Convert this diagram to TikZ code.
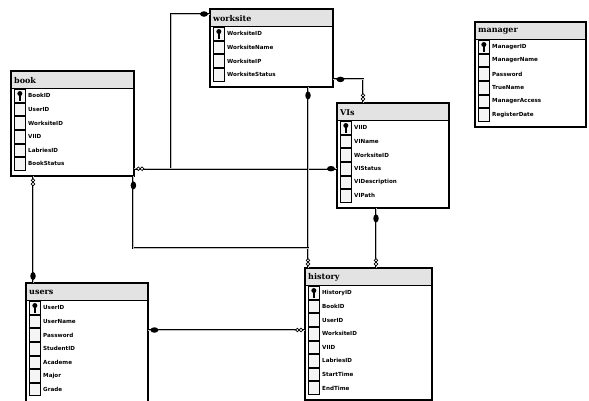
\documentclass[tikz,border=0pt]{standalone}
\usepackage{fontspec}
\newfontfamily\fldfont{DejaVu Sans}
\newfontfamily\ttlfont{DejaVu Serif}
\usetikzlibrary{calc,shapes.geometric}
\tikzset{
 tblframe/.style={draw=black, line width=1.4pt, fill=white, inner sep=0pt, rectangle},
 ttlbar/.style={draw=black, line width=0.6pt, fill=gray!22, inner sep=0pt, minimum height=17pt},
 ttltext/.style={font=\fontsize{8}{9}\selectfont\ttlfont\bfseries, inner sep=0pt, anchor=west},
 cellbox/.style={draw=black, line width=0.7pt, fill=gray!8, minimum width=11pt, minimum height=12.6pt, inner sep=0pt},
 fldtext/.style={font=\fontsize{5.6}{6.5}\selectfont\fldfont\bfseries, inner sep=0pt, anchor=west},
 conn/.style={draw=black, line width=2.1pt, postaction={draw=gray!50, line width=0.6pt}},
 keyh/.style={ellipse, fill=black, inner sep=0pt, minimum width=8pt, minimum height=5.5pt},
 keyv/.style={ellipse, fill=black, inner sep=0pt, minimum width=5.5pt, minimum height=8pt},
 ring/.style={circle, draw=black, fill=white, line width=0.7pt, inner sep=0pt, minimum size=3.6pt},
}
% #1 name, #2 left, #3 top, #4 width, #5 height, #6 title, #7 fields
\newcommand{\mktable}[7]{%
  \node[tblframe, minimum width=#4pt, minimum height=#5pt, anchor=north west] (#1) at (#2,#3) {};
  \node[ttlbar, minimum width=#4pt, anchor=north west] (#1-t) at (#1.north west) {};
  \node[ttltext] (#1-tt) at ($(#1-t.west)+(3,0.5)$) {#6};
  \foreach \f [count=\i] in {#7} {
    \node[cellbox, anchor=north west] (#1-c\i) at ($(#1-t.south west)+(3,{(\i-1)*13.6+0.5})$) {};
    \node[fldtext] (#1-f\i) at ($(#1-t.south west)+(17,{(\i-0.5)*13.6+0.5})$) {\f};
  }
  \fill ($(#1-c1.center)+(0,-2.2)$) circle (2.5);
  \fill ($(#1-c1.center)+(-1,-1)$) rectangle ($(#1-c1.center)+(1,4.8)$);
  \draw[line width=1.4pt] (#1.north west) rectangle (#1.south east);
}
\begin{document}
\begin{tikzpicture}[x=1pt,y=-1pt]
\useasboundingbox (0,0) rectangle (589,400);
\fill[white] (0,0) rectangle (589,400);
\clip (0,0) rectangle (589,400);

\mktable{book}{11}{71}{122}{104}{book}{BookID,UserID,WorksiteID,VIID,LabriesID,BookStatus}
\mktable{ws}{210}{9}{122}{77}{worksite}{WorksiteID,WorksiteName,WorksiteIP,WorksiteStatus}
\mktable{vis}{337}{103}{111}{104}{VIs}{VIID,VIName,WorksiteID,VIStatus,VIDescription,VIPath}
\mktable{mgr}{475}{22}{110}{104}{manager}{ManagerID,ManagerName,Password,TrueName,ManagerAccess,RegisterDate}
\mktable{users}{26}{283}{121}{122}{users}{UserID,UserName,Password,StudentID,Academe,Major,Grade}
\mktable{hist}{305}{268}{126}{131}{history}{HistoryID,BookID,UserID,WorksiteID,VIID,LabriesID,StartTime,EndTime}

% connector points
\coordinate (c1a) at ($(ws.north west)+(0,5)$);
\coordinate (c1m) at ($(book.east)+(37,0)$);
\coordinate (c2a) at (book.east |- vis-f4);
\coordinate (c2b) at (vis.west |- vis-f4);
\coordinate (c3a) at ($(ws.south east)+(0,-8)$);
\coordinate (c3b) at ($(vis.north west)+(26,0)$);
\coordinate (c4a) at ($(ws.south west)+(98,0)$);
\coordinate (c4b) at (c4a |- hist.north);
\coordinate (c5a) at ($(book.south east)+(-1,0)$);
\coordinate (c5m) at ($(c4b)+(0,-20)$);
\coordinate (c6a) at ($(vis.south west)+(39,0)$);
\coordinate (c6b) at (c6a |- hist.north);
\coordinate (c7a) at ($(book.south west)+(22,0)$);
\coordinate (c7b) at (c7a |- users.north);
\coordinate (c8a) at ($(hist.north west)+(0,62)$);
\coordinate (c8b) at (users.east |- c8a);

\draw[conn] (c1a) -| (c1m |- c2a) -- (c2a);
\draw[conn] (c2a) -- (c2b);
\draw[conn] (c3a) -| (c3b);
\draw[conn] (c4a) -- (c4b);
\draw[conn] (c5a) |- (c5m) -- (c4b);
\draw[conn] (c6a) -- (c6b);
\draw[conn] (c7a) -- (c7b);
\draw[conn] (c8a) -- (c8b);

% key ends
\node[keyh] at ($(c1a)+(-6,0)$) {};
\node[keyh] at ($(c2b)+(-6,0)$) {};
\node[keyh] at ($(c3a)+(7,0)$) {};
\node[keyv] at ($(c4a)+(0,8)$) {};
\node[keyv] at ($(c5a)+(0,9)$) {};
\node[keyv] at ($(c6a)+(0,10)$) {};
\node[keyv] at ($(c7b)+(0,-7)$) {};
\node[keyh] at ($(c8b)+(6,0)$) {};
% many ends
\node[ring] at ($(c2a)+(4,0)$) {};
\node[ring] at ($(c2a)+(7.6,0)$) {};
\node[ring] at ($(c3b)+(0,-4)$) {};
\node[ring] at ($(c3b)+(0,-7.6)$) {};
\node[ring] at ($(c4b)+(0,-4)$) {};
\node[ring] at ($(c4b)+(0,-7.6)$) {};
\node[ring] at ($(c6b)+(0,-4)$) {};
\node[ring] at ($(c6b)+(0,-7.6)$) {};
\node[ring] at ($(c7a)+(0,4)$) {};
\node[ring] at ($(c7a)+(0,7.6)$) {};
\node[ring] at ($(c8a)+(-4,0)$) {};
\node[ring] at ($(c8a)+(-7.6,0)$) {};
\end{tikzpicture}
\end{document}
